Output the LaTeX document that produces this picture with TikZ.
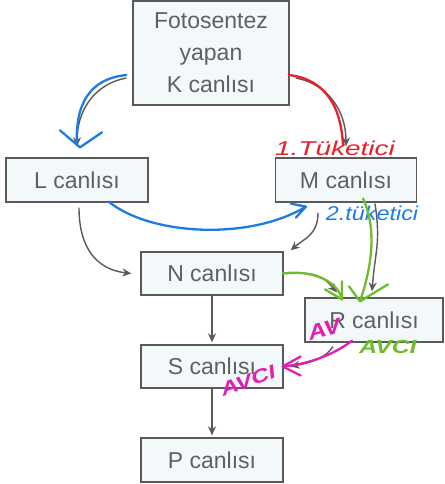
\documentclass[tikz,border=0pt]{standalone}
\usepackage{fontspec}
\setmainfont{Liberation Sans}
\usetikzlibrary{positioning}
\usetikzlibrary{arrows.meta}
\definecolor{kenar}{HTML}{5A5A5A}
\definecolor{yazirengi}{HTML}{606060}
\definecolor{zemin}{HTML}{F3F8FB}
\definecolor{mavi}{HTML}{1E7BE6}
\definecolor{kirmizi}{HTML}{E8202A}
\definecolor{yesil}{HTML}{6DBE2C}
\definecolor{pembe}{HTML}{E21DB4}

\begin{document}
\begin{tikzpicture}[x=1pt,y=-1pt]
% stiller
\tikzstyle kutu=[draw=kenar,fill=zemin,line width=1.3pt,text=yazirengi,font=\fontsize{23}{32}\selectfont,inner sep=0pt,align=center]
\tikzstyle okgri=[draw=kenar,line width=1.4pt,-{Stealth[length=9pt,width=8pt]}]
\tikzstyle kalem=[line width=2.3pt,line cap=round,line join=round]
\tikzstyle elyazi=[font=\fontsize{20}{20}\selectfont\itshape,inner sep=0pt]
% sayfa
\fill[white] (0,0) rectangle (444,484);
\useasboundingbox (0,0) rectangle (444,484);
% kutular
\node[kutu,minimum width=156pt,minimum height=104pt] (K) at (211,53) {Fotosentez\\yapan\\K canlısı};
\node[kutu,minimum width=142pt,minimum height=44pt] (L) at (77,180) {L canlısı};
\node[kutu,minimum width=141pt,minimum height=44pt] (M) at (346,180) {M canlısı};
\node[kutu,minimum width=142pt,minimum height=43pt] (N) at (212,273.5) {N canlısı};
\node[kutu,minimum width=138pt,minimum height=44pt] (R) at (374,320) {R canlısı};
\node[kutu,minimum width=142pt,minimum height=43pt] (S) at (212,366.5) {S canlısı};
\node[kutu,minimum width=142pt,minimum height=44pt] (P) at (212,460) {P canlısı};
% gri oklar
\draw[okgri] ([xshift=-6pt,yshift=-25pt]K.west) .. controls +(-32,6) and +(0,-36) .. ([yshift=11pt]L.north);
\draw[okgri] ([xshift=6pt,yshift=-25pt]K.east) .. controls +(32,6) and +(0,-36) .. ([yshift=11pt]M.north);
\draw[okgri] ([xshift=2pt,yshift=-5pt]L.south) .. controls +(0,40) and +(-35,-4) .. ([xshift=-9pt]N.west);
\draw[okgri] ([xshift=-28pt,yshift=-10pt]M.south) .. controls +(0,22) and +(14,-12) .. ([xshift=7pt,yshift=1pt]N.north east);
\draw[okgri] ([xshift=1pt]N.east) .. controls +(32,-2) and +(-14,-16) .. ([xshift=-37pt,yshift=5pt]R.north);
\draw[okgri] ([xshift=29pt,yshift=-1pt]M.south) .. controls +(6,40) and +(3,-40) .. ([xshift=-2pt,yshift=6pt]R.north);
\draw[okgri] (N.south) -- ([yshift=2pt]S.north);
\draw[okgri] ([xshift=-41pt,yshift=-4pt]R.south) .. controls +(-8,12) and +(20,-4) .. ([xshift=7pt]S.east);
\draw[okgri] (S.south) -- ([yshift=2pt]P.north);
% mavi kalem
\draw[kalem,mavi] ([xshift=-6pt,yshift=-22pt]K.west) .. controls +(-38,4) and +(-2,-40) .. ([yshift=12pt]L.north);
\draw[kalem,mavi] ([xshift=3pt,yshift=10pt]L.north) ++(-20,-17) -- ++(20,17) -- ++(22,-15);
\draw[kalem,mavi] ([xshift=-40pt,yshift=1pt]L.south east) .. controls +(42,34) and +(-56,34) .. ([xshift=31pt,yshift=-4pt]M.south west);
\draw[kalem,mavi] ([xshift=31pt,yshift=-4pt]M.south west) ++(-15,-3) -- ++(15,3) -- ++(-10,11);
\node[elyazi,text=mavi,xscale=1.17] (ikinci) at ([xshift=26pt,yshift=-11pt]M.south) {2.tüketici};
% kirmizi kalem
\draw[kalem,kirmizi] ([xshift=-1pt,yshift=-22pt]K.east) .. controls +(36,4) and +(-2,-40) .. ([xshift=-3pt,yshift=12pt]M.north);
\node[elyazi,text=kirmizi,xscale=1.4] (birinci) at ([xshift=-11pt,yshift=9pt]M.north) {1.Tüketici};
% yesil kalem
\draw[kalem,yesil] ([xshift=17pt,yshift=4pt]M.south) .. controls +(14,30) and +(12,-35) .. ([xshift=-14pt,yshift=-4pt]R.north);
\draw[kalem,yesil] ([xshift=-14pt,yshift=-4pt]R.north) ++(-11,-15) -- ++(11,15) -- ++(28,-17);
\draw[kalem,yesil] ([xshift=-1pt]N.east) .. controls +(30,-4) and +(-4,-18) .. ([xshift=-32pt,yshift=-2pt]R.north);
\draw[kalem,yesil] ([xshift=-32pt,yshift=-2pt]R.north) ++(-17,-10) -- ++(17,10) -- ++(0,-18);
\node[elyazi,text=yesil,xscale=1.3,font=\fontsize{19}{19}\selectfont\bfseries\itshape] (avci1) at ([xshift=14pt,yshift=-4pt]R.south) {AVCI};
% pembe kalem
\node[elyazi,text=pembe,rotate=15,xscale=1.2,font=\fontsize{21}{21}\selectfont\bfseries\itshape] (av) at ([xshift=20pt,yshift=-9pt]R.west) {AV};
\draw[kalem,pembe] ([xshift=-22pt,yshift=2pt]R.south) .. controls +(-18,14) and +(25,-2) .. ([xshift=-1pt]S.east);
\draw[kalem,pembe] ([xshift=-1pt]S.east) ++(18,-10) -- ++(-18,10) -- ++(18,9);
\node[elyazi,text=pembe,rotate=20,xscale=1.3,font=\fontsize{19}{19}\selectfont\bfseries\itshape] (avci2) at ([xshift=36pt,yshift=8pt]S.south) {AVCI};
\end{tikzpicture}
\end{document}
